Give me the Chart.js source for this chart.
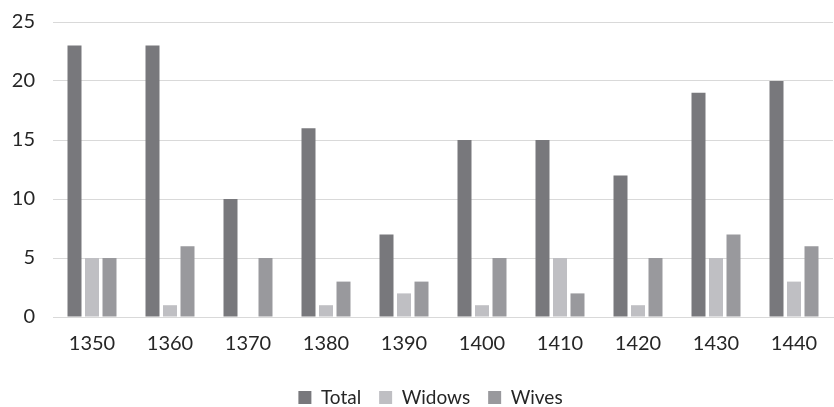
<!DOCTYPE html>
<html>
<head>
<meta charset="utf-8">
<script src="https://cdn.jsdelivr.net/npm/chart.js@4/dist/chart.umd.min.js"></script>
<style>
  html, body { margin: 0; padding: 0; background: #ffffff; }
  #wrap { width: 834px; height: 407px; }
</style>
</head>
<body>
<div id="wrap"><canvas id="c" width="834" height="407"></canvas></div>
<script>
// Decades and counts per group
const decades = ['1350', '1360', '1370', '1380', '1390', '1400', '1410', '1420', '1430', '1440'];
const total   = [23, 23, 10, 16, 7, 15, 15, 12, 19, 20];
const widows  = [5, 1, 0, 1, 2, 1, 5, 1, 5, 3];
const wives   = [5, 6, 5, 3, 3, 5, 2, 5, 7, 6];
const yTicks  = [0, 5, 10, 15, 20, 25];

const FONT = 'Lato, "Open Sans", sans-serif';
const TEXT = '#262626';

// Nudge the legend row down and slightly right
const legendShift = {
  id: 'legendShift',
  afterLayout(chart) {
    const lg = chart.legend;
    if (lg) { lg.top += 10; lg.bottom += 10; lg.left += 14; lg.right += 14; }
  }
};

new Chart(document.getElementById('c'), {
  type: 'bar',
  data: {
    labels: decades,
    datasets: [
      { label: 'Total',  data: total,  backgroundColor: '#78787c' },
      { label: 'Widows', data: widows, backgroundColor: '#bfbfc3' },
      { label: 'Wives',  data: wives,  backgroundColor: '#99999d' }
    ]
  },
  plugins: [legendShift],
  options: {
    responsive: false,
    animation: false,
    devicePixelRatio: 1,
    datasets: { bar: { categoryPercentage: 0.673, barPercentage: 0.8 } },
    layout: { autoPadding: false, padding: { top: 22, right: 1, left: 0, bottom: 0 } },
    plugins: {
      tooltip: { enabled: false },
      legend: {
        position: 'bottom',
        labels: {
          color: TEXT,
          font: { family: FONT, size: 19 },
          boxWidth: 13,
          boxHeight: 13,
          padding: 18
        }
      }
    },
    scales: {
      x: {
        grid: { display: false, drawTicks: false },
        border: { display: true, color: '#d9d9d9', width: 1 },
        ticks: { color: TEXT, font: { family: FONT, size: 20 }, padding: 15 },
        afterFit: s => { s.height = 43; }
      },
      y: {
        min: 0,
        max: 25,
        afterBuildTicks: s => { s.ticks = yTicks.map(v => ({ value: v })); },
        grid: { color: '#d9d9d9', lineWidth: 1, drawTicks: true, tickLength: 10, tickColor: 'rgba(0,0,0,0)' },
        border: { display: false },
        ticks: { color: TEXT, font: { family: FONT, size: 20 }, padding: 8 },
        afterFit: s => { s.width = 53; }
      }
    }
  }
});
</script>
</body>
</html>
